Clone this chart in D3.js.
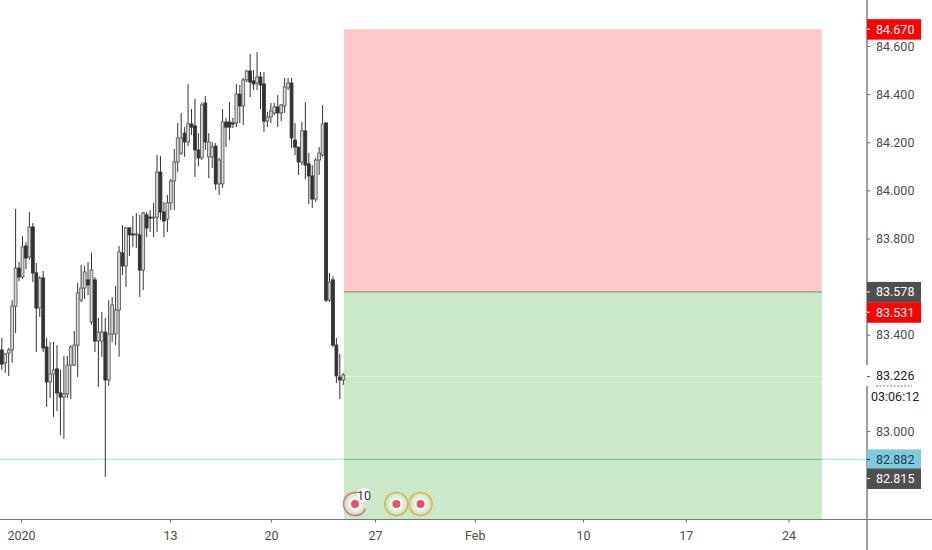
<!DOCTYPE html>
<html>
<head>
<meta charset="utf-8">
<script src="https://cdn.jsdelivr.net/npm/d3@7"></script>
<style>
html, body { margin: 0; padding: 0; background: #fff; overflow: hidden; }
text { font-family: Roboto, sans-serif; font-size: 12.5px; }
</style>
</head>
<body>
<svg id="graph" width="932" height="550"></svg>
<script>
var open = [83.337,83.283,83.324,83.337,83.519,83.677,83.640,83.769,83.723,83.848,83.657,83.511,83.636,83.349,83.204,83.237,83.258,83.158,83.141,83.154,
83.274,83.274,83.357,83.544,83.594,83.628,83.453,83.628,83.374,83.374,83.411,83.212,83.403,83.403,83.503,83.740,83.686,83.844,83.819,83.815,
83.815,83.669,83.898,83.889,83.885,83.889,84.076,83.910,83.881,83.948,84.039,84.118,84.155,84.238,84.201,84.276,84.268,84.168,84.135,84.363,
84.139,84.139,84.184,84.027,84.027,84.284,84.284,84.280,84.280,84.400,84.351,84.459,84.496,84.455,84.446,84.471,84.442,84.288,84.305,84.322,
84.347,84.322,84.351,84.426,84.446,84.209,84.180,84.118,84.247,84.110,84.060,83.964,84.126,84.147,84.280,83.544,83.628,83.357,83.224,83.212];
var close = [83.278,83.320,83.337,83.519,83.677,83.640,83.765,83.719,83.848,83.657,83.511,83.636,83.345,83.204,83.237,83.254,83.158,83.141,83.154,83.274,
83.349,83.357,83.574,83.594,83.661,83.607,83.669,83.374,83.411,83.411,83.212,83.403,83.524,83.503,83.744,83.686,83.844,83.815,83.815,83.819,
83.669,83.906,83.844,83.885,83.889,84.076,83.910,83.873,83.948,84.039,84.118,84.218,84.218,84.201,84.276,84.263,84.168,84.135,84.355,84.201,
84.201,84.180,84.027,84.126,84.284,84.263,84.263,84.276,84.400,84.351,84.459,84.496,84.450,84.442,84.471,84.438,84.288,84.305,84.330,84.347,
84.322,84.355,84.430,84.446,84.218,84.180,84.118,84.247,84.105,84.060,83.964,84.126,84.155,84.276,83.544,83.619,83.357,83.229,83.212,83.233];
var high = [83.387,83.324,83.345,83.544,83.923,83.702,83.810,83.785,83.910,83.864,83.698,83.644,83.665,83.387,83.370,83.370,83.357,83.254,83.312,83.312,
83.357,83.416,83.615,83.690,83.686,83.702,83.740,83.640,83.470,83.495,83.470,83.544,83.557,83.603,83.769,83.856,83.848,83.848,83.894,83.906,
83.898,83.910,83.910,83.918,83.948,84.147,84.143,83.952,83.981,84.047,84.172,84.280,84.322,84.263,84.442,84.338,84.380,84.238,84.367,84.392,
84.238,84.201,84.197,84.135,84.338,84.301,84.367,84.301,84.442,84.438,84.467,84.500,84.567,84.500,84.575,84.492,84.492,84.326,84.363,84.363,
84.396,84.359,84.467,84.467,84.467,84.280,84.180,84.284,84.367,84.155,84.105,84.135,84.180,84.355,84.284,83.657,83.644,83.387,83.320,83.241];
var low = [83.254,83.241,83.229,83.283,83.407,83.623,83.632,83.673,83.711,83.619,83.328,83.474,83.328,83.100,83.137,83.058,83.083,82.983,82.967,83.137,
83.133,83.270,83.224,83.536,83.549,83.565,83.441,83.328,83.183,83.308,82.809,83.187,83.370,83.357,83.308,83.648,83.598,83.727,83.765,83.761,
83.557,83.586,83.806,83.827,83.806,83.827,83.877,83.806,83.827,83.918,83.918,84.076,84.147,84.139,84.184,84.230,84.056,84.101,84.126,84.168,
84.051,84.093,84.002,83.981,84.010,84.180,84.209,84.259,84.263,84.280,84.272,84.450,84.388,84.417,84.417,84.338,84.243,84.263,84.280,84.313,
84.263,84.288,84.322,84.417,84.176,84.147,84.064,84.105,84.047,83.943,83.927,83.952,84.064,84.139,83.536,83.536,83.349,83.199,83.133,83.191];

var priceTicks = [84.6, 84.4, 84.2, 84.0, 83.8, 83.4, 83.0];
var dateTicks = [5.57, 48.75, 78.03, 108.2, 137.1, 168.5, 198.3, 228.1];
var dateLabels = ["2020", "13", "20", "27", "Feb", "10", "17", "24"];

// long position box, in bars and prices
var zoneBars = [99.19, 237.75];
var stopPrice = 84.670;
var entryPrice = 83.578;
var zoneBottom = 82.634;
var lastPrice = 83.226;
var supportPrice = 82.882;

var priceTags = [84.670, 83.578, 83.531, 82.882, 82.815];
var tagOffsets = [0, 0, 9, 0, 3];
var tagFills = ["#ff0000", "#4f4f4f", "#ff0000", "#7fc9dd", "#4f4f4f"];
var tagColors = ["#fff", "#fff", "#fff", "#1d3a4a", "#fff"];

var eventBars = [102.4, 114.4, 121.4];
var eventRings = ["#dd7080", "#e3b04a", "#e3b04a"];

var width = 932, height = 550, axisX = 867, axisY = 519.5;

var x = d3.scaleLinear().domain([0, 99]).range([1.8, 343.3]);
var y = d3.scaleLinear().domain([83, 84.6]).range([431, 46]);

var svg = d3.select("#graph");

var defs = svg.append("defs");
defs.append("filter").attr("id", "soft")
    .append("feGaussianBlur").attr("stdDeviation", 0.5);
var halo = defs.append("radialGradient").attr("id", "halo");
halo.append("stop").attr("offset", "30%").attr("stop-color", "#fff");
halo.append("stop").attr("offset", "85%").attr("stop-color", "#fff").attr("stop-opacity", 0);

// zones
svg.append("rect")
    .attr("x", x(zoneBars[0]))
    .attr("y", y(stopPrice))
    .attr("width", x(zoneBars[1]) - x(zoneBars[0]))
    .attr("height", y(entryPrice) - y(stopPrice))
    .attr("fill", "#ffc9c9");
svg.append("rect")
    .attr("x", x(zoneBars[0]))
    .attr("y", y(entryPrice))
    .attr("width", x(zoneBars[1]) - x(zoneBars[0]))
    .attr("height", y(zoneBottom) - y(entryPrice))
    .attr("fill", "#c9e9c9");
svg.append("line")
    .attr("x1", x(zoneBars[0])).attr("x2", x(zoneBars[1]))
    .attr("y1", y(entryPrice)).attr("y2", y(entryPrice))
    .attr("stroke", "#77806f").attr("stroke-width", 1);
svg.append("line")
    .attr("x1", x(zoneBars[0])).attr("x2", x(zoneBars[1]) - 3)
    .attr("y1", y(lastPrice)).attr("y2", y(lastPrice))
    .attr("stroke", "#e4f3e2").attr("stroke-width", 1);

// horizontal level
svg.append("line")
    .attr("x1", 0).attr("x2", axisX)
    .attr("y1", y(supportPrice)).attr("y2", y(supportPrice))
    .attr("stroke", "#7fd6d6").attr("stroke-opacity", 0.6).attr("stroke-width", 1.2);
svg.append("line")
    .attr("x1", x(zoneBars[0])).attr("x2", x(zoneBars[1]))
    .attr("y1", y(supportPrice)).attr("y2", y(supportPrice))
    .attr("stroke", "#5fae86").attr("stroke-opacity", 0.7).attr("stroke-width", 1);

// candles
var bars = svg.append("g").attr("filter", "url(#soft)")
    .selectAll("g").data(d3.range(open.length)).enter().append("g");
bars.append("line")
    .attr("x1", function(i) {return x(i);})
    .attr("x2", function(i) {return x(i);})
    .attr("y1", function(i) {return y(high[i]);})
    .attr("y2", function(i) {return y(low[i]);})
    .attr("stroke", "#333")
    .attr("stroke-width", 1);
bars.append("rect")
    .attr("x", function(i) {return x(i) - 1.4;})
    .attr("y", function(i) {return y(Math.max(open[i], close[i]));})
    .attr("width", 2.8)
    .attr("height", function(i) {return Math.max(1, Math.abs(y(open[i]) - y(close[i])));})
    .attr("fill", function(i) {return close[i] >= open[i] ? "#d8d8d8" : "#333";})
    .attr("stroke", function(i) {return close[i] >= open[i] ? "#5c5c5c" : "#333";})
    .attr("stroke-width", 0.9);

// event markers
var marks = svg.selectAll("g.mark").data(eventBars).enter().append("g")
    .attr("class", "mark")
    .attr("transform", function(d) {return "translate(" + x(d) + ",504)";});
marks.append("circle").attr("r", 11.5)
    .attr("fill", "url(#halo)")
    .attr("stroke", function(d, i) {return eventRings[i];})
    .attr("stroke-width", 1.5)
    .attr("stroke-dasharray", function(d, i) {return i == 0 ? "58 14" : null;})
    .attr("stroke-dashoffset", function(d, i) {return i == 0 ? -5 : null;});
marks.append("circle").attr("r", 4).attr("fill", "#ea4f6c");
svg.append("circle").attr("cx", x(eventBars[0]) + 9).attr("cy", 495).attr("r", 7).attr("fill", "#fff");
svg.append("text").attr("x", x(eventBars[0]) + 9).attr("y", 499.5)
    .attr("text-anchor", "middle").attr("fill", "#333").text("10");

// axes
var yAxis = d3.axisRight(y).tickValues(priceTicks).tickSize(3).tickPadding(6)
    .tickFormat(function(d) {return d.toFixed(3);});
var xAxis = d3.axisBottom(x).tickValues(dateTicks).tickSize(3).tickPadding(9)
    .tickFormat(function(d, i) {return dateLabels[i];});

var gx = svg.append("g").attr("transform", "translate(0," + axisY + ")").call(xAxis);
gx.select(".domain").remove();
var gy = svg.append("g").attr("transform", "translate(" + axisX + ",0)").call(yAxis);
gy.select(".domain").remove();
svg.selectAll(".tick text").attr("fill", "#4c4c4c").style("font-size", "12.5px").style("font-family", "Roboto, sans-serif");
svg.selectAll(".tick line").attr("stroke", "#666");

svg.append("line").attr("x1", 0).attr("x2", width).attr("y1", axisY).attr("y2", axisY)
    .attr("stroke", "#777").attr("stroke-width", 1.2);
svg.append("line").attr("x1", axisX).attr("x2", axisX).attr("y1", 0).attr("y2", height)
    .attr("stroke", "#777").attr("stroke-width", 1.4);

// last price and countdown
svg.append("rect").attr("x", axisX - 1).attr("y", 365).attr("width", 56).attr("height", 21).attr("fill", "#fff");
svg.append("line").attr("x1", axisX).attr("x2", axisX + 3)
    .attr("y1", y(lastPrice)).attr("y2", y(lastPrice)).attr("stroke", "#555");
svg.append("text").attr("x", 876).attr("y", y(lastPrice) + 3.5).attr("fill", "#222").text(lastPrice.toFixed(3));
svg.append("line").attr("x1", 876).attr("x2", 912).attr("y1", 386).attr("y2", 386)
    .attr("stroke", "#777").attr("stroke-dasharray", "2 1.5");
svg.append("text").attr("x", 871).attr("y", 401).attr("fill", "#222").text("03:06:12");

// price tags
var tags = svg.selectAll("g.tag").data(priceTags).enter().append("g")
    .attr("class", "tag")
    .attr("transform", function(d, i) {return "translate(" + axisX + "," + (y(d) + tagOffsets[i]) + ")";});
tags.append("rect").attr("x", 0).attr("y", -10).attr("width", 54).attr("height", 20.5)
    .attr("fill", function(d, i) {return tagFills[i];});
tags.append("line").attr("x1", 0).attr("x2", 3)
    .attr("stroke", function(d, i) {return tagColors[i];});
tags.append("text").attr("x", 9).attr("y", 4.5)
    .attr("fill", function(d, i) {return tagColors[i];})
    .text(function(d) {return d.toFixed(3);});
</script>
</body>
</html>
